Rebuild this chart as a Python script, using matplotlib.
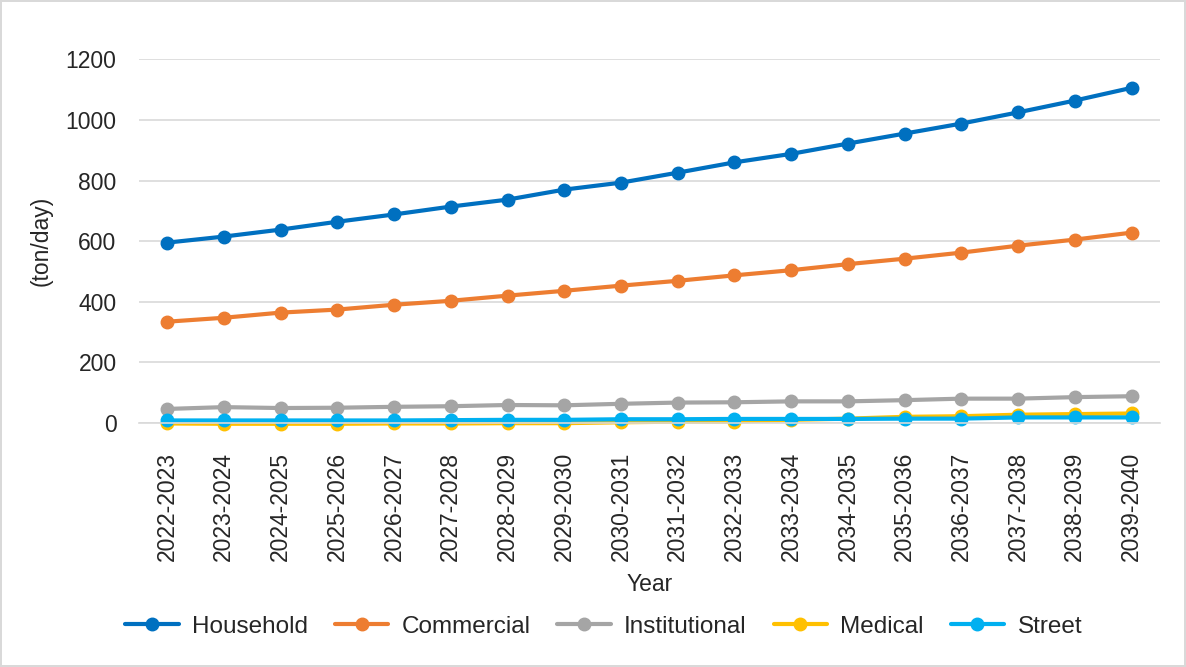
import numpy as np
from matplotlib import pyplot as plt

years = ['2022-2023', '2023-2024', '2024-2025', '2025-2026', '2026-2027', '2027-2028',
         '2028-2029', '2029-2030', '2030-2031', '2031-2032', '2032-2033', '2033-2034',
         '2034-2035', '2035-2036', '2036-2037', '2037-2038', '2038-2039', '2039-2040']

household = [595, 615, 638, 664, 688, 714, 737, 770, 793, 826, 860, 888, 922, 955, 988, 1025, 1064, 1106]
commercial = [334, 347, 364, 374, 390, 403, 420, 436, 453, 469, 487, 504, 524, 542, 562, 585, 605, 628]
institutional = [46, 52, 49, 50, 53, 55, 59, 58, 63, 67, 68, 71, 71, 75, 80, 80, 85, 88]
medical = [-2, -3, -3, -3, -2, -2, -1, -1, 2, 4, 4, 10, 14, 20, 22, 27, 29, 31]
street = [8, 8, 8, 8, 8, 9, 10, 10, 12, 12, 13, 13, 13, 14, 14, 18, 18, 18]

series = [('Household', household, '#0070C0'),
          ('Commercial', commercial, '#ED7D31'),
          ('Institutional', institutional, '#A5A5A5'),
          ('Medical', medical, '#FFC000'),
          ('Street', street, '#00B0F0')]

plt.rcParams['font.family'] = ['Liberation Sans', 'DejaVu Sans']
fs = 16.5
txt = '#262626'

fig = plt.figure(figsize=(11.86, 6.67), dpi=100)
fig.patch.set_edgecolor('#D9D9D9')
fig.patch.set_linewidth(1.5)
ax = fig.add_axes([0.117, 0.366, 0.861, 0.545])

x = np.arange(len(years))
for name, vals, col in series:
    ax.plot(x, vals, color=col, lw=3, marker='o', ms=9, label=name,
            solid_capstyle='round', clip_on=False)

ax.set_ylim(0, 1200)
ax.set_xlim(-0.5, len(years) - 0.5)
ax.set_yticks(range(0, 1201, 200))
ax.set_xticks(x)
ax.set_xticklabels(years, rotation=90)
ax.tick_params(axis='both', length=0, labelsize=fs, colors=txt)
ax.tick_params(axis='x', pad=21)
ax.tick_params(axis='y', pad=16)
ax.grid(axis='y', color='#D9D9D9', lw=1.2)
ax.set_axisbelow(True)
for s in ['top', 'right', 'left']:
    ax.spines[s].set_visible(False)
ax.spines['bottom'].set_color('#D9D9D9')
ax.spines['bottom'].set_linewidth(1.2)

ax.set_ylabel('(ton/day)', fontsize=fs, color=txt, labelpad=9)
ax.set_xlabel('Year', fontsize=fs, color=txt, labelpad=8)

leg = fig.legend(loc='center', bbox_to_anchor=(0.509, 0.06), ncol=5, frameon=False,
                 fontsize=17.5, handlelength=2.2, columnspacing=1.1, handletextpad=0.55)
for t in leg.get_texts():
    t.set_color(txt)

fig.savefig('out.png', dpi=100, edgecolor=fig.get_edgecolor())
